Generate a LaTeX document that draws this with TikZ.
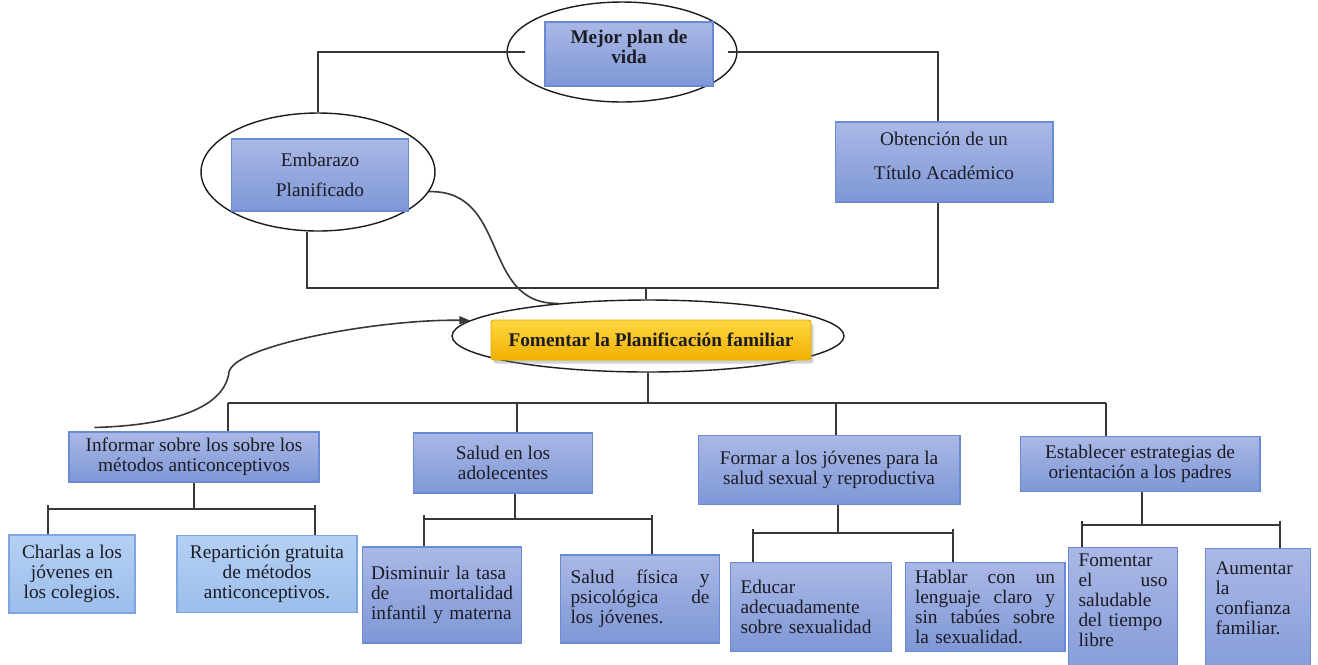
\documentclass[tikz,border=0pt]{standalone}
\usepackage{xcolor}
\usepackage{fontspec}
\setmainfont{Liberation Serif}
\usepackage{tikz}
\usetikzlibrary{shapes.geometric, arrows.meta, positioning, shadows}

\definecolor{boxtop}{RGB}{170,184,230}
\definecolor{boxbot}{RGB}{126,151,214}
\definecolor{boxedge}{RGB}{106,138,214}
\definecolor{lighttop}{RGB}{180,208,243}
\definecolor{lightbot}{RGB}{156,190,236}
\definecolor{lightedge}{RGB}{128,166,226}
\definecolor{goldtop}{RGB}{255,214,64}
\definecolor{goldbot}{RGB}{240,176,0}
\definecolor{goldedge}{RGB}{226,168,0}
\definecolor{ink}{RGB}{28,28,36}
\definecolor{wire}{RGB}{55,55,55}

\newcommand{\boxfont}{\fontsize{11}{11.4}\selectfont\hyphenpenalty=10000}

\begin{document}
\begin{tikzpicture}[x=0.02cm, y=-0.02cm,
  box/.style={draw=boxedge, line width=0.6pt, top color=boxtop, bottom color=boxbot, text=ink, font=\boxfont, align=center, inner sep=0pt},
  lightbox/.style={box, draw=lightedge, top color=lighttop, bottom color=lightbot},
  leaf/.style={box, align=left, inner xsep=0.2cm, inner ysep=3pt},
  goal/.style={draw=goldedge, line width=0.5pt, rounded corners=1.5pt, top color=goldtop, bottom color=goldbot, text=ink, font=\boxfont\bfseries, drop shadow={shadow xshift=1.5pt, shadow yshift=-2pt, opacity=0.35}},
  oval/.style={draw=ink, line width=0.8pt, ellipse, inner sep=0pt},
  link/.style={draw=wire, line width=0.9pt}]
\useasboundingbox[fill=white] (0,0) rectangle (1318,664);
\clip (0,0) rectangle (1318,664);

% upper part
\node[oval, minimum width=4.6cm, minimum height=2.0cm] (mejE) at (622,52) {};
\node[box, font=\boxfont\bfseries, minimum width=3.36cm, minimum height=1.28cm] (mej) at (629,54) {Mejor plan de\\vida\\[-3pt]\mbox{}};
\node[oval, minimum width=4.68cm, minimum height=2.36cm] (embE) at (318,172) {};
\node[box, minimum width=3.54cm, minimum height=1.44cm] (emb) at (320,175) {Embarazo\\[5.5pt]Planificado};
\node[box, minimum width=4.36cm, minimum height=1.6cm] (obt) at (944,162) {Obtención de un\\[8pt]Título Académico\\[-4pt]\mbox{}};

\node[oval, minimum width=7.84cm, minimum height=1.44cm] (fomE) at (648,336) {};
\node[goal, minimum width=6.4cm, minimum height=0.8cm] (fom) at (651,340) {Fomentar la Planificación familiar};

% second row
\node[box, minimum width=5cm, minimum height=1cm] (inf) at (194,457) {Informar sobre los sobre los\\métodos anticonceptivos};
\node[box, minimum width=3.58cm, minimum height=1.2cm] (sal) at (503,463) {Salud en los\\adolecentes};
\node[box, minimum width=5.24cm, minimum height=1.38cm] (form) at (829,470) {Formar a los jóvenes para la\\salud sexual y reproductiva};
\node[box, minimum width=4.8cm, minimum height=1.1cm] (est) at (1140,464) {Establecer estrategias de\\orientación a los padres};

% third row
\node[lightbox, minimum width=2.52cm, minimum height=1.56cm] (cha) at (72,574) {Charlas a los\\jóvenes en\\los colegios.};
\node[lightbox, minimum width=3.6cm, minimum height=1.54cm] (rep) at (267,574) {Repartición gratuita\\de métodos\\anticonceptivos.};
\node[leaf, text width=2.84cm, inner xsep=0.17cm, minimum height=1.92cm] (dis) at (442,595) {Disminuir la tasa\\de\hfill mortalidad\\infantil y materna};
\node[leaf, text width=2.78cm, minimum height=1.76cm] (sfis) at (640,599) {Salud\hfill física\hfill y\\psicológica\hfill de\\los jóvenes.};
\node[leaf, text width=2.82cm, minimum height=1.78cm] (edu) at (811,607) {Educar\\adecuadamente\\sobre sexualidad};
\node[leaf, text width=2.8cm, minimum height=1.78cm] (hab) at (985,607) {Hablar\hfill con\hfill un\\lenguaje\hfill claro\hfill y\\sin\hfill tabúes\hfill sobre\\la sexualidad.};
\node[leaf, anchor=north, text width=1.78cm, minimum height=2.95cm] (fuso) at (1123,547) {Fomentar\\el\hfill uso\\saludable\\del tiempo\\libre\\[13pt]\mbox{}};
\node[leaf, anchor=north, text width=1.7cm, minimum height=2.95cm] (aum) at (1258,548) {Aumentar\\la\\confianza\\familiar.\\[16pt]\mbox{}};

% links above the goal
\coordinate (upbus) at (646,288);
\draw[link] ([xshift=0.38cm]mejE.west) -| (embE.north);
\draw[link] ([xshift=-0.2cm]mejE.east) -| ([xshift=-0.12cm]obt.north);
\draw[link] ([xshift=-0.22cm]embE.south) |- (upbus) -| ([xshift=-0.12cm]obt.south);
\draw[link] (upbus) -- (upbus |- fomE.north);
\draw[link] (embE.-10) .. controls (510,190) and (480,305) .. (fomE.160);
\draw[link, -{Triangle[length=6pt, width=4.5pt]}] ([shift={(26,-4)}]inf.north west) .. controls (180,425) and (225,405) .. (229,372) .. controls (235,345) and (380,319) .. (fomE.175);

% main bus
\coordinate (mainL) at (228,403);
\coordinate (m2) at (517,403);
\coordinate (m3) at (836,403);
\coordinate (mainR) at (1106,403);
\draw[link] (fomE.south) -- (fomE.south |- mainL);
\draw[link] (mainL) -- (mainR);
\draw[link] (mainL) -- (mainL |- inf.north);
\draw[link] (m2) -- (m2 |- sal.north);
\draw[link] (m3) -- (m3 |- form.north);
\draw[link] (mainR) -- (mainR |- est.north);

% sub buses
\coordinate (infL) at (48,509);
\coordinate (infR) at (315,509);
\draw[link] (inf.south) -- (inf.south |- infL);
\draw[link] (infL) -- (infR);
\draw[link] ([yshift=0.08cm]infL) -- (infL |- cha.north);
\draw[link] ([yshift=0.08cm]infR) -- (infR |- rep.north);

\coordinate (salL) at (424,519);
\coordinate (salM) at (515,519);
\coordinate (salR) at (652,519);
\draw[link] (salM |- sal.south) -- (salM);
\draw[link] (salL) -- (salR);
\draw[link] ([yshift=0.08cm]salL) -- (salL |- dis.north);
\draw[link] ([yshift=0.08cm]salR) -- (salR |- sfis.north);

\coordinate (formL) at (753,533);
\coordinate (formM) at (838,533);
\coordinate (formR) at (953,533);
\draw[link] (formM |- form.south) -- (formM);
\draw[link] (formL) -- (formR);
\draw[link] ([yshift=0.08cm]formL) -- (formL |- edu.north);
\draw[link] ([yshift=0.08cm]formR) -- (formR |- hab.north);

\coordinate (estL) at (1082,525);
\coordinate (estM) at (1142,525);
\coordinate (estR) at (1280,525);
\draw[link] (estM |- est.south) -- (estM);
\draw[link] (estL) -- (estR);
\draw[link] ([yshift=0.08cm]estL) -- (estL |- fuso.north);
\draw[link] ([yshift=0.08cm]estR) -- (estR |- aum.north);
\end{tikzpicture}
\end{document}
